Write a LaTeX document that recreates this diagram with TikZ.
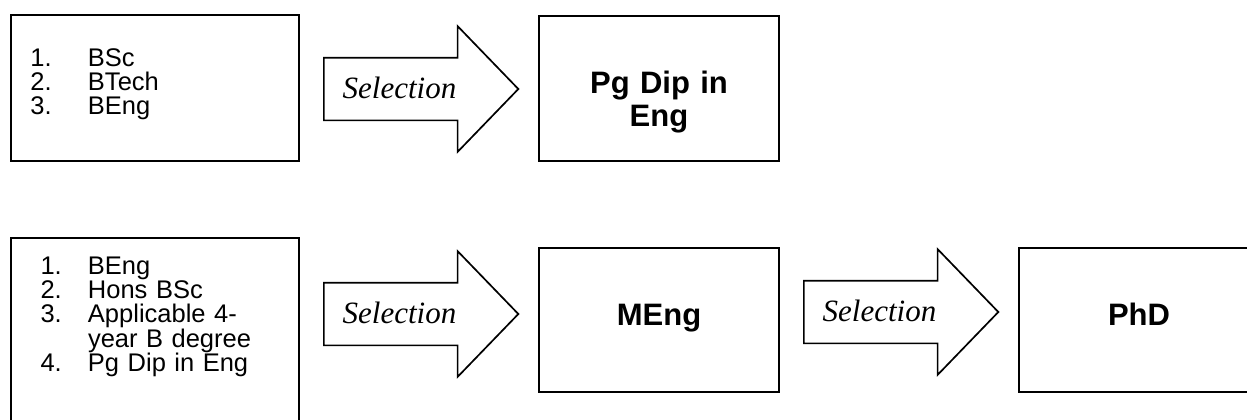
\documentclass[tikz,border=0pt]{standalone}
\usepackage{fontspec}
\setmainfont{Liberation Sans}
\newfontfamily\timesfont{Liberation Serif}
\usetikzlibrary{shapes.arrows, positioning}

\tikzset{
  box/.style={draw, line width=0.85pt, minimum width=120pt, minimum height=72pt, inner sep=0pt},
  listbox/.style={box, minimum width=144pt, align=left, font=\fontsize{12.75}{12.2}\selectfont},
  degree/.style={box, text width=120pt, align=center, font=\fontsize{15.5}{16.5}\selectfont\bfseries,
    text height=11pt, text depth=6pt},
  selarrow/.style={single arrow, draw, line width=0.85pt, anchor=tail,
    single arrow head extend=15.75pt, single arrow tip angle=92,
    inner xsep=9pt, inner ysep=10.5pt, text width=63.25pt, align=left,
    text height=9.5pt, text depth=0pt, font=\timesfont\itshape\fontsize{15.5}{16}\selectfont}
}

\begin{document}
\begin{tikzpicture}[x=0.5pt, y=-0.5pt]
    \useasboundingbox (0,0) rectangle (1247,419);
    \clip (0,0) rectangle (1247,419);

    % first route
    \node[listbox, minimum height=73pt, text width=124.5pt, text height=0pt, text depth=22pt] (bach) at (155,88)
        {\makebox[28.75pt][l]{1.}BSc\\
         \makebox[28.75pt][l]{2.}BTech\\
         \makebox[28.75pt][l]{3.}BEng};
    \node[selarrow] (sel1) at (323,89) {Selection};
    \node[degree, minimum height=72.5pt] (pgdip) at (659,88.5) {Pg Dip in\\Eng};

    % second route
    \node[listbox, minimum height=101pt, text width=114.5pt, text height=0pt, text depth=65pt] (hons) at (155,339)
        {\makebox[23.75pt][l]{1.}BEng\\
         \makebox[23.75pt][l]{2.}Hons BSc\\
         \makebox[23.75pt][l]{3.}Applicable 4-\\
         \makebox[23.75pt][l]{}year B degree\\
         \makebox[23.75pt][l]{4.}Pg Dip in Eng};
    \node[selarrow] (sel2) at (323,314) {Selection};
    \node[degree] (meng) at (659,320) {MEng};
    \node[selarrow] (sel3) at (803,312) {Selection};
    \node[degree] (phd) at (1139,320) {PhD};
\end{tikzpicture}
\end{document}
